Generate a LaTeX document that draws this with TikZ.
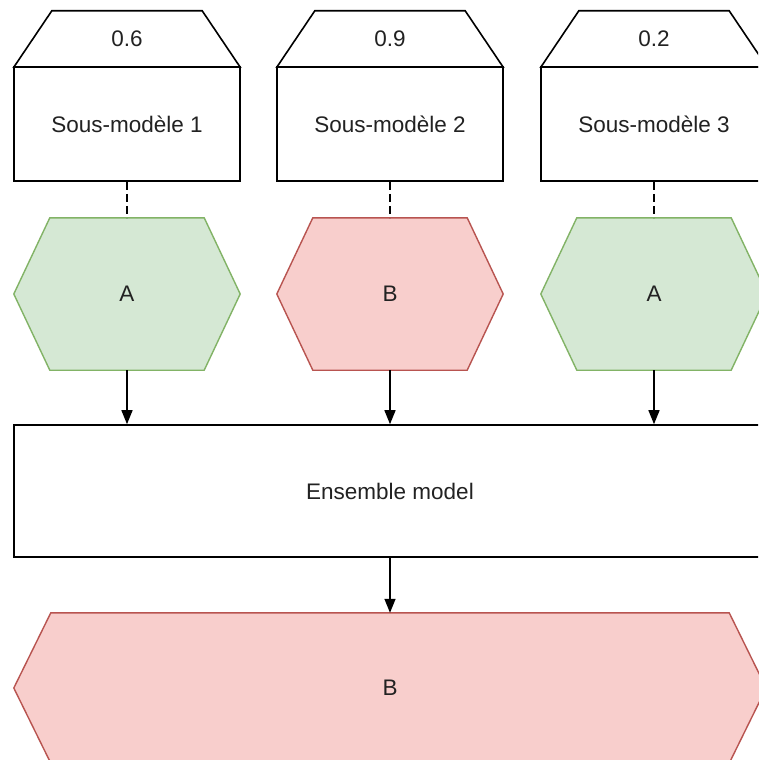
\documentclass[tikz,border=0pt]{standalone}
\usepackage{fontspec}
\setmainfont{Liberation Sans}
\usetikzlibrary{arrows.meta,backgrounds}
\definecolor{okfill}{HTML}{D5E8D4}
\definecolor{okline}{HTML}{82B366}
\definecolor{kofill}{HTML}{F8CECC}
\definecolor{koline}{HTML}{B85450}
\definecolor{ink}{HTML}{222222}
\tikzset{
  lbl/.style={inner sep=0pt, text=ink, font=\fontsize{22.5}{26}\selectfont},
  frame/.style={lbl, draw=black, line width=1.6pt, fill=white, minimum width=226pt, minimum height=114pt},
  weightslot/.style={lbl, minimum width=226pt, minimum height=56pt},
  hexslot/.style={lbl, minimum width=226pt, minimum height=152pt},
  trapline/.style={draw=black, line width=1.6pt, fill=white, line join=miter},
  okhex/.style={draw=okline, fill=okfill, line width=1.4pt},
  kohex/.style={draw=koline, fill=kofill, line width=1.4pt},
  link/.style={draw=black, line width=1.4pt, dash pattern=on 8pt off 4pt},
  flow/.style={draw=black, line width=1.4pt, -{Triangle[length=14pt,width=11pt]}}
}
\newcommand{\hexpath}[3]{% node, slant, style
  \path[#3] (#1.west) -- ([xshift=#2]#1.north west) -- ([xshift=-#2]#1.north east)
    -- (#1.east) -- ([xshift=-#2]#1.south east) -- ([xshift=#2]#1.south west) -- cycle;}
\newcommand{\trappath}[1]{%
  \path[trapline] (#1.south west) -- ([xshift=38pt]#1.north west) -- ([xshift=-38pt]#1.north east)
    -- (#1.south east) -- cycle;}
\begin{document}
\begin{tikzpicture}[x=1pt,y=-1pt]
\clip (0,0) rectangle (758,760);

% sub-models with their weights
\foreach \i/\cx/\w in {1/127/0.6, 2/390/0.9, 3/654/0.2}{
  \node[weightslot] (w\i) at (\cx,39) {};
  \trappath{w\i}
  \node[lbl] at (w\i) {\w};
  \node[frame] (s\i) at (\cx,124) {Sous-modèle \i};
}

% predictions of each sub-model
\node[hexslot] (p1) at (127,294) {A};
\node[hexslot] (p2) at (390,294) {B};
\node[hexslot] (p3) at (654,294) {A};

% combined model and its output
\node[lbl, draw=black, line width=1.6pt, minimum width=752pt, minimum height=132pt] (ens) at (390,491) {Ensemble model};
\node[hexslot, minimum width=752pt, minimum height=150pt] (out) at (390,688) {B};

\begin{scope}[on background layer]
  \fill[white] (0,0) rectangle (758,760);
  \hexpath{p1}{36pt}{okhex}
  \hexpath{p2}{36pt}{kohex}
  \hexpath{p3}{36pt}{okhex}
  \hexpath{out}{37pt}{kohex}
\end{scope}

\foreach \i in {1,2,3}{
  \path[link] (s\i.south) -- (p\i.north);
  \path[flow] (p\i.south) -- (p\i.south |- ens.north);
}
\path[flow] (ens.south) -- (out.north);
\end{tikzpicture}
\end{document}
